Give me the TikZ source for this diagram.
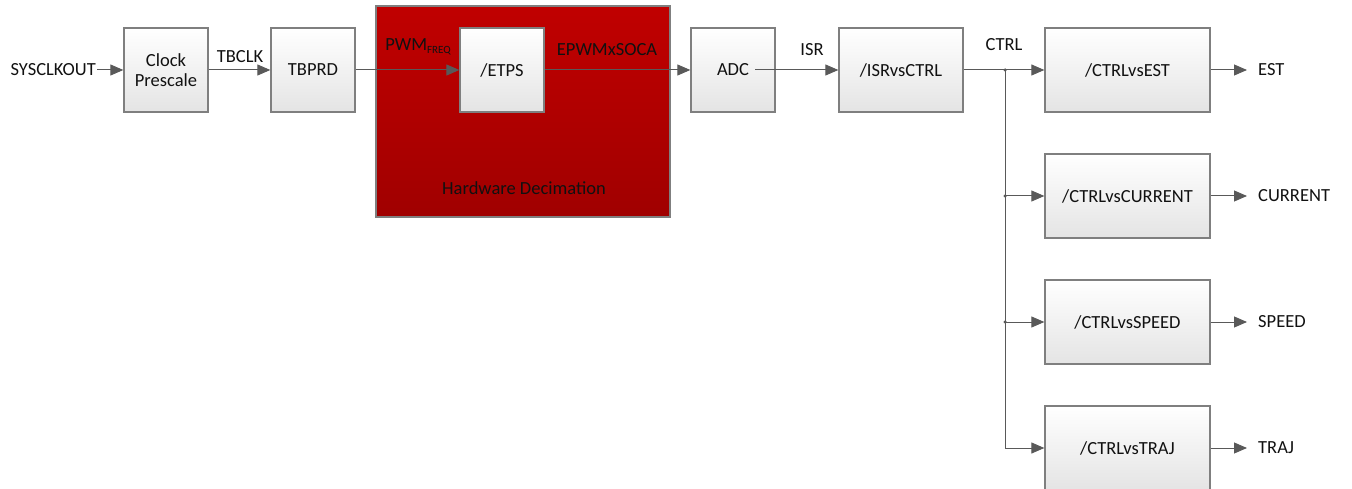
\documentclass[tikz,border=0pt]{standalone}
\usepackage{fontspec}
\setmainfont{Carlito}
\usetikzlibrary{arrows.meta}
\definecolor{boxborder}{HTML}{7F7F7F}
\definecolor{boxbot}{HTML}{E4E4E4}
\definecolor{redtop}{HTML}{C00000}
\definecolor{redbot}{HTML}{A00000}
\definecolor{linec}{HTML}{595959}
\definecolor{txt}{HTML}{111111}
\tikzset{
  blk/.style={draw=boxborder, line width=1.3pt, top color=white, bottom color=boxbot,
    minimum width=84, minimum height=84, inner sep=0pt, align=center, text=txt},
  redblk/.style={draw=boxborder, line width=1.3pt, top color=redtop, bottom color=redbot},
  lbl/.style={inner sep=1pt, text=txt},
  arr/.style={draw=linec, line width=1pt, -{Triangle[length=13pt,width=11pt]}, color=linec},
  wire/.style={draw=linec, line width=1pt},
  dot/.style={circle, fill=linec, inner sep=0pt, minimum size=3.5pt},
}
\begin{document}
\begin{tikzpicture}[x=1pt,y=-1pt, font=\fontsize{18.5}{22}\selectfont]
\useasboundingbox (0,0) rectangle (1352,489);
\clip (0,0) rectangle (1352,489);
% red hardware decimation block
\node[redblk, minimum width=294, minimum height=211, inner sep=0pt] (hw) at (523,111.5) {};
\node[lbl] (hwlbl) at (524,188) {Hardware Decimation};
% blocks
\node[blk] (cp) at (166,70) {Clock\\[-2pt]Prescale};
\node[blk] (tbprd) at (313,70) {TBPRD};
\node[blk] (etps) at (502,70) {/ETPS};
\node[blk] (adc) at (733,70) {ADC};
\node[blk, minimum width=124] (isr) at (901,70) {/ISRvsCTRL};
\node[blk, minimum width=165] (est) at (1127.5,70) {/CTRLvsEST};
\node[blk, minimum width=165] (cur) at (1127.5,196) {/CTRLvsCURRENT};
\node[blk, minimum width=165] (spd) at (1127.5,322) {/CTRLvsSPEED};
\node[blk, minimum width=165] (trj) at (1127.5,448) {/CTRLvsTRAJ};
% input label
\node[lbl, anchor=east] (sys) at (97,70) {SYSCLKOUT};
% outputs
\node[lbl, anchor=west] (oest) at (1257,70) {EST};
\node[lbl, anchor=west] (ocur) at (1257,196) {CURRENT};
\node[lbl, anchor=west] (ospd) at (1257,322) {SPEED};
\node[lbl, anchor=west] (otrj) at (1257,448) {TRAJ};
% signal labels
\node[lbl] (ltbclk) at (240,57) {TBCLK};
\node[lbl] (lpwm) at (418,47) {PWM\raisebox{-0.35ex}{\fontsize{11}{11}\selectfont FREQ}};
\node[lbl] (lsoca) at (607,50) {EPWMxSOCA};
\node[lbl] (lisr) at (812,50) {ISR};
\node[lbl] (lctrl) at (1004,45) {CTRL};
% connectors
\draw[arr] (sys.east) -- (cp.west);
\draw[arr] (cp.east) -- (tbprd.west);
\draw[arr] (tbprd.east) -- (etps.west);
\draw[arr] (etps.east) -- (adc.west);
\coordinate (adcout) at (755,70);
\draw[arr] (adcout) -- (isr.west);
\coordinate (j0) at (1005,70);
\coordinate (j1) at (1005,196);
\coordinate (j2) at (1005,322);
\coordinate (j3) at (1005,448);
\draw[arr] (isr.east) -- (est.west);
\draw[wire] (j0) -- (j3);
\draw[arr] (j1) -- (cur.west);
\draw[arr] (j2) -- (spd.west);
\draw[arr] (j3) -- (trj.west);
\node[dot] (d0) at (j0) {};
\node[dot] (d1) at (j1) {};
\node[dot] (d2) at (j2) {};
\draw[arr, shorten >=10pt] (est.east) -- (oest.west);
\draw[arr, shorten >=10pt] (cur.east) -- (ocur.west);
\draw[arr, shorten >=10pt] (spd.east) -- (ospd.west);
\draw[arr, shorten >=10pt] (trj.east) -- (otrj.west);
\end{tikzpicture}
\end{document}
